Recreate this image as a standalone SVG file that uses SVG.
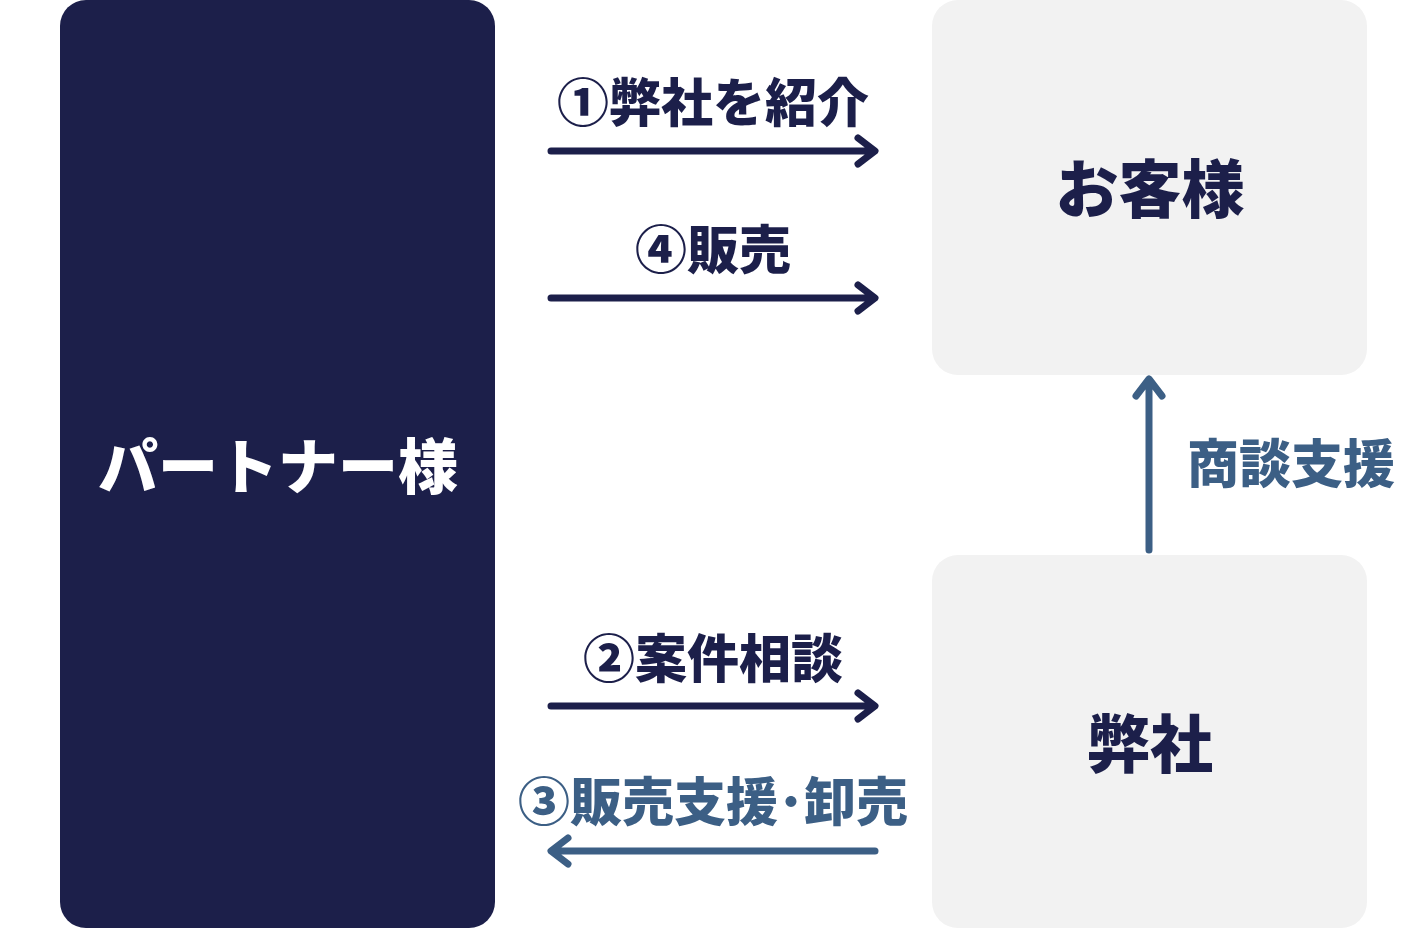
<svg xmlns="http://www.w3.org/2000/svg" width="1424" height="929" viewBox="0 0 1424 929">
<defs>
<style>
.t{font-family:"Noto Sans CJK JP","Noto Sans",sans-serif;font-weight:900;text-anchor:middle}
.navy{fill:#1c1f4a}
.blue{fill:#3c5f85}
.box{fill:#f2f2f2}
.ln{fill:none;stroke-width:7;stroke-linecap:round;stroke-linejoin:round}
</style>
</defs>
<rect width="1424" height="929" fill="#ffffff"/>
<g id="partner">
<rect x="60" y="0" width="435" height="928" rx="26" fill="#1c1f4a"/>
<text class="t" x="278" y="489" font-size="60" fill="#ffffff">パートナー様</text>
</g>
<g id="customer">
<rect class="box" x="932" y="0" width="435" height="375" rx="26"/>
<text class="t navy" x="1150" y="212" font-size="63">お客様</text>
</g>
<g id="company">
<rect class="box" x="932" y="555" width="435" height="373" rx="26"/>
<text class="t navy" x="1150" y="767" font-size="63">弊社</text>
</g>
<g id="connectors">
<path class="ln" d="M551 151 H874 M858 138 L875 151 L858 164" stroke="#1c1f4a"/>
<path class="ln" d="M551 298 H874 M858 285 L875 298 L858 311" stroke="#1c1f4a"/>
<path class="ln" d="M551 706 H874 M858 693 L875 706 L858 719" stroke="#1c1f4a"/>
<path class="ln" d="M875 851 H552 M568 838 L551 851 L568 864" stroke="#3c5f85"/>
<path class="ln" d="M1149 550 V381 M1136 396 L1149 379 L1162 396" stroke="#3c5f85"/>
<text class="t navy" x="713" y="122" font-size="52">①弊社を紹介</text>
<text class="t navy" x="713" y="269" font-size="52">④販売</text>
<text class="t navy" x="713" y="678" font-size="52">②案件相談</text>
<text class="t blue" x="713" y="821" font-size="52">③販売支援･卸売</text>
<text class="t blue" x="1291" y="483" font-size="52">商談支援</text>
</g>
</svg>
